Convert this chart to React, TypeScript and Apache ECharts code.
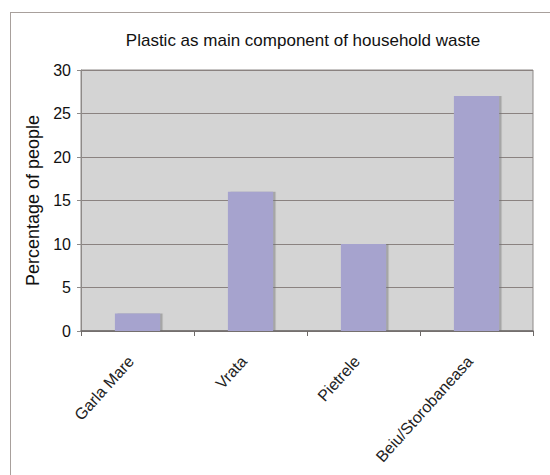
import React, { useEffect, useRef } from "react";
import * as echarts from "echarts";

const chartTitle = "Plastic as main component of household waste";
const yAxisName = "Percentage of people";
const categories = ["Garla Mare", "Vrata", "Pietrele", "Beiu/Storobaneasa"];
const plasticShare = [2, 16, 10, 27];
const yMin = 0;
const yMax = 30;
const yStep = 5;

const FONT = "'Liberation Sans', Arial, sans-serif";

export default function App() {
  const ref = useRef<HTMLDivElement>(null);

  useEffect(() => {
    if (!ref.current) return;
    const chart = echarts.init(ref.current, null, { renderer: "svg" });
    chart.setOption({
      animation: false,
      backgroundColor: "#ffffff",
      title: {
        text: chartTitle,
        left: 298,
        top: 27,
        textAlign: "center",
        textStyle: { fontFamily: FONT, fontSize: 17, fontWeight: "normal", color: "#111" },
      },
      graphic: [
        { type: "line", shape: { x1: 10, y1: 12.5, x2: 550, y2: 12.5 }, style: { stroke: "#a8a09c", lineWidth: 1 } },
        { type: "line", shape: { x1: 10.5, y1: 12, x2: 10.5, y2: 475 }, style: { stroke: "#a8a09c", lineWidth: 1 } },
      ],
      grid: {
        left: 81,
        top: 70,
        right: 17,
        bottom: 144,
        show: true,
        backgroundColor: "#d4d4d4",
        borderColor: "#8e8a88",
        borderWidth: 1,
      },
      xAxis: {
        type: "category",
        data: categories,
        axisLine: { show: true, lineStyle: { color: "#6e6a68", width: 1.5 } },
        axisTick: { show: true, length: 5, alignWithLabel: false, lineStyle: { color: "#6e6a68" } },
        axisLabel: {
          rotate: 48,
          margin: 20,
          interval: 0,
          padding: [0, 10, 0, 0],
          fontFamily: FONT,
          fontSize: 16,
          color: "#222",
        },
      },
      yAxis: {
        type: "value",
        min: yMin,
        max: yMax,
        interval: yStep,
        name: yAxisName,
        nameLocation: "middle",
        nameGap: 36,
        nameTextStyle: { fontFamily: FONT, fontSize: 18, color: "#111" },
        axisLine: { show: true, lineStyle: { color: "#8e8a88", width: 1 } },
        axisTick: { show: true, length: 4, lineStyle: { color: "#8e8a88" } },
        axisLabel: { fontFamily: FONT, fontSize: 16, color: "#111", margin: 10 },
        splitLine: { show: true, lineStyle: { color: "#8a8280", width: 1 } },
      },
      series: [
        {
          type: "bar",
          data: plasticShare,
          barWidth: "40%",
          itemStyle: {
            color: "#a6a3ce",
            shadowColor: "rgba(110,110,110,0.45)",
            shadowOffsetX: 2.5,
            shadowOffsetY: 0,
            shadowBlur: 0,
          },
        },
      ],
    });
    return () => chart.dispose();
  }, []);

  return (
    <div
      ref={ref}
      style={{ position: "fixed", left: 0, top: 0, width: 550, height: 475 }}
    />
  );
}
